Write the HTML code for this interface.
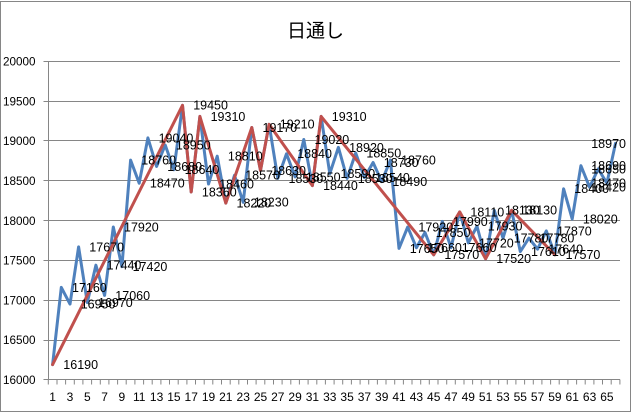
<!DOCTYPE html>
<html><head><meta charset="utf-8"><style>
html,body{margin:0;padding:0;background:#fff;}
svg{display:block;}
</style></head><body>
<svg width="631" height="413" viewBox="0 0 631 413" xmlns="http://www.w3.org/2000/svg">
<rect x="0" y="0" width="631" height="413" fill="#fff"/>
<rect x="0.5" y="1.5" width="630" height="410" fill="none" stroke="#868686" stroke-width="1"/>
<text x="315.5" y="37" text-anchor="middle" font-family="'Liberation Sans','Noto Sans CJK JP',sans-serif" font-size="19" fill="#000">日通し</text>
<g stroke="#868686" stroke-width="1" fill="none">
<path d="M43.5 61.5H620M43.5 101.5H620M43.5 140.5H620M43.5 180.5H620M43.5 220.5H620M43.5 260.5H620M43.5 300.5H620M43.5 340.5H620M43.5 379.5H620"/>
<path d="M48.5 61.5V379.5"/>
<path d="M48.3 379.5v5M57 379.5v5M65.6 379.5v5M74.3 379.5v5M82.9 379.5v5M91.6 379.5v5M100.3 379.5v5M108.9 379.5v5M117.6 379.5v5M126.2 379.5v5M134.9 379.5v5M143.6 379.5v5M152.2 379.5v5M160.9 379.5v5M169.5 379.5v5M178.2 379.5v5M186.9 379.5v5M195.5 379.5v5M204.2 379.5v5M212.8 379.5v5M221.5 379.5v5M230.2 379.5v5M238.8 379.5v5M247.5 379.5v5M256.1 379.5v5M264.8 379.5v5M273.5 379.5v5M282.1 379.5v5M290.8 379.5v5M299.4 379.5v5M308.1 379.5v5M316.8 379.5v5M325.4 379.5v5M334.1 379.5v5M342.7 379.5v5M351.4 379.5v5M360.1 379.5v5M368.7 379.5v5M377.4 379.5v5M386 379.5v5M394.7 379.5v5M403.4 379.5v5M412 379.5v5M420.7 379.5v5M429.3 379.5v5M438 379.5v5M446.7 379.5v5M455.3 379.5v5M464 379.5v5M472.6 379.5v5M481.3 379.5v5M490 379.5v5M498.6 379.5v5M507.3 379.5v5M515.9 379.5v5M524.6 379.5v5M533.3 379.5v5M541.9 379.5v5M550.6 379.5v5M559.2 379.5v5M567.9 379.5v5M576.6 379.5v5M585.2 379.5v5M593.9 379.5v5M602.5 379.5v5M611.2 379.5v5M619.9 379.5v5"/>
</g>
<g font-family="'Liberation Sans',sans-serif" font-size="11.7" fill="#000" text-anchor="end">
<text x="35.5" y="65.7">20000</text>
<text x="35.5" y="105.5">19500</text>
<text x="35.5" y="145.2">19000</text>
<text x="35.5" y="185">18500</text>
<text x="35.5" y="224.8">18000</text>
<text x="35.5" y="264.6">17500</text>
<text x="35.5" y="304.3">17000</text>
<text x="35.5" y="344.1">16500</text>
<text x="35.5" y="383.9">16000</text>
</g>
<g font-family="'Liberation Sans',sans-serif" font-size="12" fill="#000" text-anchor="middle">
<text x="52.6" y="401">1</text><text x="70" y="401">3</text><text x="87.3" y="401">5</text><text x="104.6" y="401">7</text><text x="121.9" y="401">9</text><text x="139.2" y="401">11</text><text x="156.6" y="401">13</text><text x="173.9" y="401">15</text><text x="191.2" y="401">17</text><text x="208.5" y="401">19</text><text x="225.8" y="401">21</text><text x="243.2" y="401">23</text><text x="260.5" y="401">25</text><text x="277.8" y="401">27</text><text x="295.1" y="401">29</text><text x="312.4" y="401">31</text><text x="329.8" y="401">33</text><text x="347.1" y="401">35</text><text x="364.4" y="401">37</text><text x="381.7" y="401">39</text><text x="399" y="401">41</text><text x="416.4" y="401">43</text><text x="433.7" y="401">45</text><text x="451" y="401">47</text><text x="468.3" y="401">49</text><text x="485.6" y="401">51</text><text x="503" y="401">53</text><text x="520.3" y="401">55</text><text x="537.6" y="401">57</text><text x="554.9" y="401">59</text><text x="572.2" y="401">61</text><text x="589.6" y="401">63</text><text x="606.9" y="401">65</text>
</g>
<polyline fill="none" stroke="#4F81BD" stroke-width="3" stroke-linejoin="round" stroke-linecap="round" points="52.6,364.6 61.3,287.4 70.0,304.1 78.6,246.9 87.3,302.5 95.9,265.2 104.6,295.4 113.3,227.0 121.9,266.7 130.6,160.1 139.2,183.2 147.9,137.9 156.6,166.5 165.2,145.0 173.9,169.7 182.5,105.3 191.2,192.0 199.9,116.4 208.5,184.0 217.2,156.2 225.8,203.1 234.5,175.3 243.2,202.3 251.8,127.5 260.5,170.5 269.1,124.3 277.8,178.4 286.5,153.8 295.1,176.9 303.8,139.5 312.4,185.6 321.1,116.4 329.8,173.7 338.4,147.4 347.1,178.4 355.7,153.0 364.4,177.6 373.1,162.5 381.7,181.6 390.4,160.1 399.0,248.4 407.7,227.0 416.4,247.7 425.0,232.5 433.7,254.8 442.3,221.4 451.0,247.7 459.7,211.9 468.3,242.9 477.0,226.2 485.6,258.8 494.3,210.3 503.0,238.1 511.6,210.3 520.3,251.6 528.9,238.1 537.6,249.2 546.3,230.9 554.9,254.8 563.6,188.8 572.2,219.0 580.9,165.7 589.6,187.2 598.2,168.9 606.9,183.2 615.5,143.4"/>
<polyline fill="none" stroke="#C0504D" stroke-width="3" stroke-linejoin="round" stroke-linecap="round" points="52.6,364.6 182.5,105.3 191.2,192.0 199.9,116.4 225.8,203.1 251.8,127.5 260.5,170.5 269.1,124.3 312.4,185.6 321.1,116.4 433.7,254.8 459.7,211.9 485.6,258.8 511.6,210.3 554.9,254.8"/>
<g font-family="'Liberation Sans',sans-serif" font-size="12.5" fill="#000">
<text x="63.3" y="369">16190</text>
<text x="72" y="291.8">17160</text>
<text x="80.7" y="308.5">16950</text>
<text x="89.3" y="251.3">17670</text>
<text x="98" y="306.9">16970</text>
<text x="106.6" y="269.6">17440</text>
<text x="115.3" y="299.8">17060</text>
<text x="124" y="231.4">17920</text>
<text x="132.6" y="271.1">17420</text>
<text x="141.3" y="164.5">18760</text>
<text x="149.9" y="187.6">18470</text>
<text x="158.6" y="142.3">19040</text>
<text x="167.3" y="170.9">18680</text>
<text x="175.9" y="149.4">18950</text>
<text x="184.6" y="174.1">18640</text>
<text x="193.2" y="109.7">19450</text>
<text x="201.9" y="196.4">18360</text>
<text x="210.6" y="120.8">19310</text>
<text x="219.2" y="188.4">18460</text>
<text x="227.9" y="160.6">18810</text>
<text x="236.5" y="207.5">18220</text>
<text x="245.2" y="179.7">18570</text>
<text x="253.9" y="206.7">18230</text>
<text x="262.5" y="131.9">19170</text>
<text x="271.2" y="174.9">18630</text>
<text x="279.8" y="128.7">19210</text>
<text x="288.5" y="182.8">18530</text>
<text x="297.2" y="158.2">18840</text>
<text x="305.8" y="181.3">18550</text>
<text x="314.5" y="143.9">19020</text>
<text x="323.1" y="190">18440</text>
<text x="331.8" y="120.8">19310</text>
<text x="340.5" y="178.1">18590</text>
<text x="349.1" y="151.8">18920</text>
<text x="357.8" y="182.8">18530</text>
<text x="366.4" y="157.4">18850</text>
<text x="375.1" y="182">18540</text>
<text x="383.8" y="166.9">18730</text>
<text x="392.4" y="186">18490</text>
<text x="401.1" y="164.5">18760</text>
<text x="409.7" y="252.8">17650</text>
<text x="418.4" y="231.4">17920</text>
<text x="427.1" y="252.1">17660</text>
<text x="435.7" y="236.9">17850</text>
<text x="444.4" y="259.2">17570</text>
<text x="453" y="225.8">17990</text>
<text x="461.7" y="252.1">17660</text>
<text x="470.4" y="216.3">18110</text>
<text x="479" y="247.3">17720</text>
<text x="487.7" y="230.6">17930</text>
<text x="496.3" y="263.2">17520</text>
<text x="505" y="214.7">18130</text>
<text x="513.7" y="242.5">17780</text>
<text x="522.3" y="214.7">18130</text>
<text x="531" y="256">17610</text>
<text x="539.6" y="242.5">17780</text>
<text x="548.3" y="253.6">17640</text>
<text x="557" y="235.3">17870</text>
<text x="565.6" y="259.2">17570</text>
<text x="574.3" y="193.2">18400</text>
<text x="582.9" y="223.4">18020</text>
<text x="626" y="170.1" text-anchor="end">18690</text>
<text x="626" y="191.6" text-anchor="end">18420</text>
<text x="626" y="173.3" text-anchor="end">18650</text>
<text x="626" y="187.6" text-anchor="end">18470</text>
<text x="626" y="147.8" text-anchor="end">18970</text>
</g>
</svg>
</body></html>
